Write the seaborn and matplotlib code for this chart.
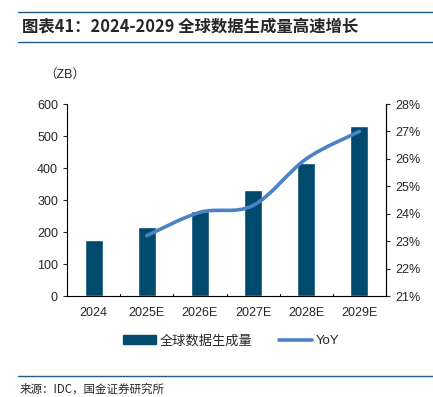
import numpy as np
import pandas as pd
import matplotlib
matplotlib.use("Agg")
import matplotlib.pyplot as plt
from matplotlib.path import Path
from matplotlib.patches import PathPatch, Patch
from matplotlib.lines import Line2D
from matplotlib.ticker import FuncFormatter
import seaborn as sns

# données
years = ["2024", "2025E", "2026E", "2027E", "2028E", "2029E"]
volume_zb = [175, 217, 265, 330, 417, 530]
yoy_years = ["2025E", "2026E", "2027E", "2028E", "2029E"]
yoy_pct = [23.2, 24.05, 24.3, 26.0, 27.0]

bar_color = "#004A6E"
line_color = "#4A82C3"
rule_color = "#1F5C8B"

sns.set_style("white")
plt.rcParams["font.family"] = ["Liberation Sans", "Noto Sans CJK SC", "DejaVu Sans"]

df = pd.DataFrame({"year": years, "volume": volume_zb})

fig = plt.figure(figsize=(4.33, 3.97), dpi=100)
ax = fig.add_axes([0.1547, 0.2544, 0.7368, 0.4836])
sns.barplot(data=df, x="year", y="volume", color=bar_color, width=0.34,
            saturation=1, ax=ax)
ax.set_xlim(-0.5, 5.5)
ax.set_ylim(0, 600)
ax.set_yticks(range(0, 601, 100))
ax.set_xlabel("")
ax.set_ylabel("")
ax.spines["top"].set_visible(False)
for s in ["left", "bottom", "right"]:
    ax.spines[s].set_color("black")
    ax.spines[s].set_linewidth(0.8)
ax.tick_params(axis="y", direction="out", length=3, width=0.8, labelsize=9, left=True)
ax.tick_params(axis="x", length=0, labelsize=9, pad=8)
# petits traits entre catégories
for i in range(1, 6):
    ax.plot([i - 0.5, i - 0.5], [0, 6], color="black", lw=0.8, clip_on=False)

# axe secondaire pour YoY
ax2 = ax.twinx()
ax2.set_ylim(21, 28)
ax2.set_yticks(range(21, 29))
ax2.yaxis.set_major_formatter(FuncFormatter(lambda v, p: f"{int(v)}%"))
ax2.tick_params(axis="y", direction="out", length=3, width=0.8, labelsize=9, right=True)
for s in ["top", "left", "bottom"]:
    ax2.spines[s].set_visible(False)
ax2.spines["right"].set_color("black")
ax2.spines["right"].set_linewidth(0.8)

# courbe lissée (style Excel, bezier)
xs = [years.index(y) for y in yoy_years]
pts = np.array(list(zip(xs, yoy_pct)), dtype=float)
ext = np.vstack([pts[0], pts, pts[-1]])
verts = [tuple(pts[0])]
codes = [Path.MOVETO]
for i in range(1, len(ext) - 2):
    p0, p1, p2, p3 = ext[i - 1], ext[i], ext[i + 1], ext[i + 2]
    c1 = p1 + (p2 - p0) / 6
    c2 = p2 - (p3 - p1) / 6
    verts += [tuple(c1), tuple(c2), tuple(p2)]
    codes += [Path.CURVE4] * 3
ax2.add_patch(PathPatch(Path(verts, codes), facecolor="none", edgecolor=line_color,
                        lw=2.6, capstyle="round"))

# textes
fig.text(0.051, 0.932, "图表41：2024-2029 全球数据生成量高速增长", fontsize=11.8,
         fontweight="bold", family=["Noto Sans CJK SC"], va="center")
fig.add_artist(Line2D([0.042, 1.0], [0.97, 0.97], color=rule_color, lw=1.0))
fig.add_artist(Line2D([0.042, 1.0], [0.894, 0.894], color=rule_color, lw=1.0))
fig.text(0.102, 0.811, "（ZB）", fontsize=9, va="center")
fig.add_artist(Line2D([0.042, 1.0], [0.053, 0.053], color=rule_color, lw=1.0))
fig.text(0.046, 0.02, "来源：IDC，国金证券研究所", fontsize=8.3,
         family=["Noto Sans CJK SC"], va="center")

handles = [Patch(color=bar_color, label="全球数据生成量"),
           Line2D([], [], color=line_color, lw=2.6, label="YoY")]
fig.legend(handles=handles, loc="center", bbox_to_anchor=(0.533, 0.141), ncol=2,
           frameon=False, fontsize=9.5, handlelength=2.5, handleheight=0.7,
           columnspacing=2.0, handletextpad=0.3)

fig.savefig("out.png", dpi=100)
